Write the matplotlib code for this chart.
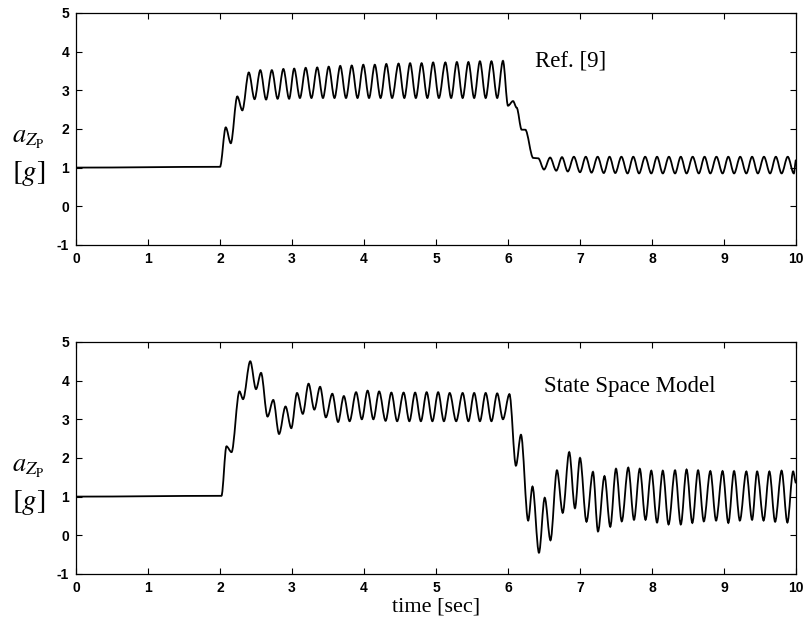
import matplotlib
matplotlib.use("Agg")
import matplotlib.pyplot as plt
from matplotlib.path import Path
from matplotlib.patches import PathPatch

# extrema of the two acceleration traces (time [s], a_zp [g])
ref_t = [0.0, 2.0, 2.08, 2.15, 2.24, 2.31, 2.40, 2.48, 2.56, 2.64, 2.72, 2.80,
         2.88, 2.96, 3.03, 3.11, 3.19, 3.27, 3.35, 3.43, 3.51, 3.59, 3.67, 3.75,
         3.83, 3.91, 3.99, 4.07, 4.15, 4.23, 4.31, 4.39, 4.48, 4.56, 4.64, 4.72,
         4.80, 4.88, 4.96, 5.04, 5.13, 5.21, 5.29, 5.37, 5.45, 5.53, 5.61, 5.69,
         5.77, 5.85, 5.93, 6.00, 6.07, 6.12, 6.19, 6.24, 6.35,
         6.42, 6.50, 6.585, 6.67, 6.75, 6.83, 6.915, 7.00, 7.08, 7.16, 7.245,
         7.33, 7.41, 7.49, 7.575, 7.66, 7.74, 7.82, 7.905, 7.99, 8.07, 8.15,
         8.235, 8.32, 8.40, 8.48, 8.565, 8.65, 8.73, 8.81, 8.895, 8.98, 9.06,
         9.14, 9.225, 9.31, 9.39, 9.47, 9.555, 9.64, 9.72, 9.80, 9.885, 9.97, 10.0]
ref_a = [1.0, 1.02, 2.04, 1.63, 2.84, 2.48, 3.46, 2.77, 3.52, 2.76, 3.52, 2.78,
         3.55, 2.78, 3.56, 2.80, 3.58, 2.80, 3.59, 2.80, 3.61, 2.80, 3.63, 2.80,
         3.64, 2.80, 3.66, 2.80, 3.66, 2.80, 3.68, 2.80, 3.69, 2.80, 3.70, 2.80,
         3.70, 2.80, 3.72, 2.80, 3.72, 2.80, 3.73, 2.80, 3.73, 2.80, 3.75, 2.80,
         3.75, 2.80, 3.76, 2.60, 2.72, 2.55, 1.98, 1.98, 1.25,
         1.24, 0.95, 1.26, 0.92, 1.27, 0.90, 1.28, 0.88, 1.28, 0.87, 1.28,
         0.86, 1.28, 0.86, 1.28, 0.85, 1.28, 0.85, 1.28, 0.85, 1.28, 0.85,
         1.28, 0.85, 1.28, 0.85, 1.28, 0.85, 1.28, 0.85, 1.28, 0.85, 1.28,
         0.85, 1.28, 0.85, 1.28, 0.85, 1.28, 0.85, 1.28, 0.85, 1.28, 0.85, 1.20]

ssm_t = [0.0, 2.02, 2.09, 2.16, 2.27, 2.32, 2.42, 2.50, 2.57, 2.66, 2.74, 2.82,
         2.91, 2.99, 3.07, 3.15, 3.23, 3.31, 3.39, 3.47, 3.56, 3.64, 3.72, 3.80,
         3.89, 3.97, 4.05, 4.13, 4.21, 4.30, 4.38, 4.46, 4.55, 4.63, 4.71, 4.79,
         4.87, 4.95, 5.03, 5.11, 5.19, 5.28, 5.37, 5.45, 5.53, 5.61, 5.69, 5.77,
         5.85, 5.93, 6.02, 6.11, 6.18, 6.28, 6.34, 6.43, 6.51, 6.59, 6.68, 6.76,
         6.85, 6.93, 7.00, 7.09, 7.18, 7.25, 7.34, 7.42, 7.50, 7.58, 7.67, 7.75,
         7.83, 7.91, 7.99, 8.07, 8.15, 8.23, 8.32, 8.40, 8.48, 8.56, 8.64, 8.72,
         8.81, 8.89, 8.98, 9.06, 9.14, 9.22, 9.31, 9.39, 9.46, 9.55, 9.63, 9.71,
         9.80, 9.88, 9.96, 10.0]
ssm_a = [1.0, 1.02, 2.30, 2.15, 3.72, 3.52, 4.50, 3.78, 4.20, 3.07, 3.50, 2.62,
         3.33, 2.77, 3.68, 3.14, 3.92, 3.25, 3.84, 3.05, 3.66, 2.93, 3.60, 2.95,
         3.70, 3.00, 3.74, 3.00, 3.72, 2.96, 3.69, 2.95, 3.69, 2.95, 3.69, 2.95,
         3.70, 2.95, 3.70, 2.95, 3.68, 2.95, 3.68, 2.95, 3.68, 2.95, 3.68, 2.95,
         3.67, 3.00, 3.65, 1.80, 2.60, 0.38, 1.26, -0.45, 0.97, -0.13, 1.68, 0.58,
         2.15, 0.70, 2.00, 0.35, 1.64, 0.10, 1.53, 0.22, 1.72, 0.36, 1.75, 0.40,
         1.72, 0.40, 1.67, 0.33, 1.67, 0.28, 1.68, 0.28, 1.70, 0.32, 1.68, 0.36,
         1.66, 0.38, 1.66, 0.32, 1.66, 0.38, 1.65, 0.40, 1.65, 0.38, 1.65, 0.35,
         1.67, 0.33, 1.65, 1.35]

x_ticks = list(range(0, 11))
y_ticks = [-1, 0, 1, 2, 3, 4, 5]


def smooth_trace(ax, t, a, **kw):
    # cubic segments with flat tangents at each read extremum
    verts = [(t[0], a[0])]
    codes = [Path.MOVETO]
    for i in range(1, len(t)):
        dt = t[i] - t[i - 1]
        verts += [(t[i - 1] + dt / 3, a[i - 1]), (t[i] - dt / 3, a[i]), (t[i], a[i])]
        codes += [Path.CURVE4] * 3
    ax.add_patch(PathPatch(Path(verts, codes), fill=False, **kw))


plt.rcParams["mathtext.fontset"] = "stix"
plt.rcParams["axes.unicode_minus"] = False

fig = plt.figure(figsize=(8.12, 6.37), dpi=100)
ax_top = fig.add_axes([0.0936, 0.6155, 0.8867, 0.3642])
ax_bot = fig.add_axes([0.0936, 0.0990, 0.8867, 0.3642])

panels = [
    (ax_top, ref_t, ref_a, "Ref. [9]", 6.38, 3.75),
    (ax_bot, ssm_t, ssm_a, "State Space Model", 6.50, 3.85),
]

for ax, t, a, note, nx, ny in panels:
    smooth_trace(ax, t, a, edgecolor="black", lw=1.3)
    ax.set_xlim(0, 10)
    ax.set_ylim(-1, 5)
    ax.set_xticks(x_ticks)
    ax.set_yticks(y_ticks)
    ax.tick_params(direction="in", length=4, width=0.8, top=True, right=True,
                   labelsize=10, pad=5)
    for lbl in ax.get_xticklabels() + ax.get_yticklabels():
        lbl.set_fontfamily("Liberation Sans")
        lbl.set_fontweight("bold")
    for sp in ax.spines.values():
        sp.set_linewidth(0.9)
    ax.text(nx, ny, note, family="Liberation Serif", fontsize=16.5,
            va="center", ha="left")
    ax.text(-0.066, 0.46, r"$a_{Z_{\mathrm{P}}}$", transform=ax.transAxes,
            fontsize=19, ha="center", va="center")
    ax.text(-0.066, 0.31, r"$[g]$", transform=ax.transAxes,
            fontsize=21, ha="center", va="center")

ax_bot.set_xlabel("time [sec]", family="Liberation Serif", fontsize=16,
                  labelpad=2)

fig.savefig("out.png", dpi=100)
